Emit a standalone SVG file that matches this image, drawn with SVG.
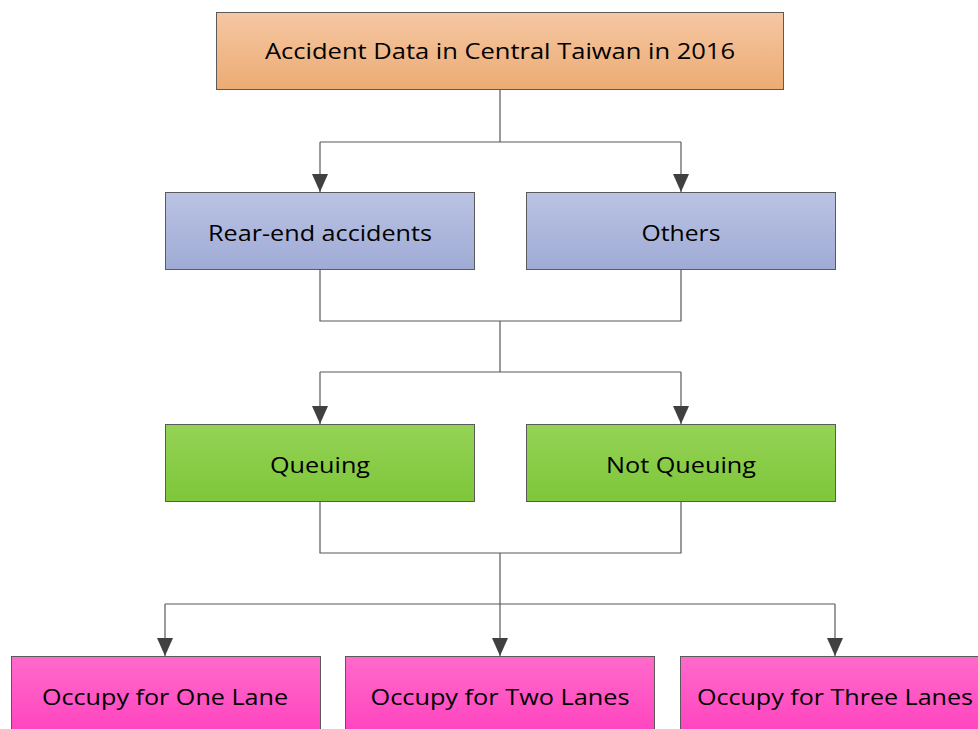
<svg xmlns="http://www.w3.org/2000/svg" width="978" height="729" viewBox="0 0 978 729">
<defs>
<linearGradient id="gO" x1="0" y1="0" x2="0" y2="1"><stop offset="0" stop-color="#f5c7a3"/><stop offset="1" stop-color="#ecab74"/></linearGradient>
<linearGradient id="gB" x1="0" y1="0" x2="0" y2="1"><stop offset="0" stop-color="#bac3e3"/><stop offset="1" stop-color="#a0abd6"/></linearGradient>
<linearGradient id="gG" x1="0" y1="0" x2="0" y2="1"><stop offset="0" stop-color="#95d355"/><stop offset="1" stop-color="#7ec63a"/></linearGradient>
<linearGradient id="gP" x1="0" y1="0" x2="0" y2="1"><stop offset="0" stop-color="#ff6acb"/><stop offset="1" stop-color="#ff42bf"/></linearGradient>
<marker id="arr" viewBox="0 0 18 16" refX="18" refY="8" markerWidth="18" markerHeight="16" markerUnits="userSpaceOnUse" orient="auto">
<path d="M0,0 L18,8 L0,16 Z" fill="#404040"/>
</marker>
</defs>
<style>
rect{stroke:#5a5a5a;stroke-width:1}
text{font-family:"Open Sans","Liberation Sans",sans-serif;font-size:22px;fill:#000;text-anchor:middle}
.c{fill:none;stroke:#595959;stroke-width:1.2}
</style>
<rect width="978" height="729" fill="#fff" style="stroke:none"/>
<g id="connectors">
<path class="c" d="M500,89 V142 M320,142 H681"/>
<path class="c" d="M320,142 V192" marker-end="url(#arr)"/>
<path class="c" d="M681,142 V192" marker-end="url(#arr)"/>
<path class="c" d="M320,269 V321 H681 V269 M500,321 V372 M320,372 H681"/>
<path class="c" d="M320,372 V424" marker-end="url(#arr)"/>
<path class="c" d="M681,372 V424" marker-end="url(#arr)"/>
<path class="c" d="M320,501 V553 H681 V501 M500,553 V604 M165,604 H835"/>
<path class="c" d="M165,604 V656" marker-end="url(#arr)"/>
<path class="c" d="M500,604 V656" marker-end="url(#arr)"/>
<path class="c" d="M835,604 V656" marker-end="url(#arr)"/>
</g>
<g id="root"><rect x="216.5" y="12.5" width="567" height="77" fill="url(#gO)"/><text x="500" y="59" textLength="470" lengthAdjust="spacingAndGlyphs">Accident Data in Central Taiwan in 2016</text></g>
<g id="rear"><rect x="165.5" y="192.5" width="309" height="77" fill="url(#gB)"/><text x="320" y="241" textLength="224" lengthAdjust="spacingAndGlyphs">Rear-end accidents</text></g>
<g id="others"><rect x="526.5" y="192.5" width="309" height="77" fill="url(#gB)"/><text x="681" y="241" textLength="79" lengthAdjust="spacingAndGlyphs">Others</text></g>
<g id="queuing"><rect x="165.5" y="424.5" width="309" height="77" fill="url(#gG)"/><text x="320" y="473" textLength="100" lengthAdjust="spacingAndGlyphs">Queuing</text></g>
<g id="notqueuing"><rect x="526.5" y="424.5" width="309" height="77" fill="url(#gG)"/><text x="681" y="473" textLength="150" lengthAdjust="spacingAndGlyphs">Not Queuing</text></g>
<g id="one"><rect x="11.5" y="656.5" width="309" height="80" fill="url(#gP)"/><text x="165" y="705" textLength="246" lengthAdjust="spacingAndGlyphs">Occupy for One Lane</text></g>
<g id="two"><rect x="345.5" y="656.5" width="309" height="80" fill="url(#gP)"/><text x="500" y="705" textLength="259" lengthAdjust="spacingAndGlyphs">Occupy for Two Lanes</text></g>
<g id="three"><rect x="680.5" y="656.5" width="309" height="80" fill="url(#gP)"/><text x="835" y="705" textLength="276" lengthAdjust="spacingAndGlyphs">Occupy for Three Lanes</text></g>
</svg>
